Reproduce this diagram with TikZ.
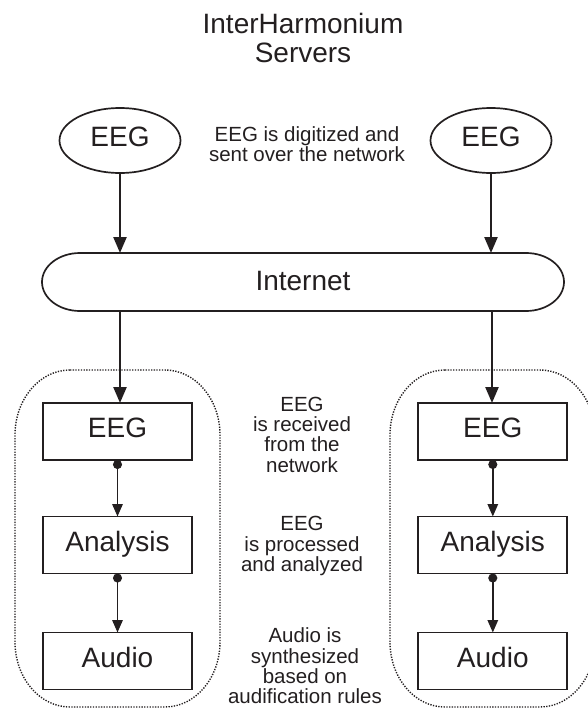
\documentclass[tikz,border=0pt]{standalone}
\usepackage{fontspec}
\setmainfont{Liberation Sans}
\usetikzlibrary{arrows.meta,shapes.geometric}
\definecolor{ink}{HTML}{231F20}
\begin{document}
\begin{tikzpicture}[x=1pt,y=1pt,
  every node/.style={inner sep=0pt, outer sep=0pt, text=ink},
  bigfont/.style={font=\fontsize{28}{29.3}\selectfont},
  smallfont/.style={font=\fontsize{20.5}{20.3}\selectfont, align=center},
  titletext/.style={bigfont, align=center},
  oval/.style={ellipse, draw=ink, line width=1.7pt, minimum width=121pt, minimum height=65pt, bigfont, text height=20pt, text depth=8pt},
  stagebox/.style={rectangle, draw=ink, line width=1.8pt, minimum width=149pt, minimum height=57pt, bigfont, text height=20pt, text depth=8pt},
  netshape/.style={rectangle, minimum width=522pt, minimum height=58pt, bigfont, text height=20pt, text depth=4pt},
  bigarrow/.style={draw=ink, line width=2.4pt, -{Triangle[length=16pt,width=13pt]}},
  smallarrow/.style={draw=ink, line width=1.5pt, {Circle[length=9pt]}-{Triangle[length=12.5pt,width=10.5pt]}},
  container/.style={draw=ink, line width=1.4pt, dash pattern=on 1.3pt off 1.4pt},
]
\useasboundingbox (0,0) rectangle (587,-718);

% title
\node[titletext, anchor=north] (title) at (303,-13.3) {InterHarmonium\\Servers};

% source EEG ovals
\node[oval] (srcL) at (120,-140.5) {EEG};
\node[oval] (srcR) at (491,-140.5) {EEG};
\node[smallfont, anchor=north] (noteA) at (307,-126.5) {EEG is digitized and\\sent over the network};

% internet
\node[netshape] (inet) at (303,-282) {Internet};
\draw[draw=ink, line width=1.7pt]
  ([xshift=38pt]inet.north west) -- ([xshift=-38pt]inet.north east)
  arc[start angle=90, end angle=-90, x radius=38pt, y radius=29pt]
  -- ([xshift=38pt]inet.south west)
  arc[start angle=270, end angle=90, x radius=38pt, y radius=29pt] -- cycle;

% containers
\draw[container] (70,-370) -- (165,-370)
  arc[start angle=90, end angle=0, x radius=55pt, y radius=65pt] -- (220,-642)
  arc[start angle=0, end angle=-90, x radius=55pt, y radius=65pt] -- (70,-707)
  arc[start angle=270, end angle=180, x radius=55pt, y radius=65pt] -- (15,-435)
  arc[start angle=180, end angle=90, x radius=55pt, y radius=65pt] -- cycle;
\draw[container] (445,-370) -- (540,-370)
  arc[start angle=90, end angle=0, x radius=55pt, y radius=65pt] -- (595,-642)
  arc[start angle=0, end angle=-90, x radius=55pt, y radius=65pt] -- (445,-707)
  arc[start angle=270, end angle=180, x radius=55pt, y radius=65pt] -- (390,-435)
  arc[start angle=180, end angle=90, x radius=55pt, y radius=65pt] -- cycle;

% stage boxes
\node[stagebox] (eegL) at (117.5,-431.5) {EEG};
\node[stagebox] (anaL) at (117.5,-545) {Analysis};
\node[stagebox] (audL) at (117.5,-661) {Audio};
\node[stagebox] (eegR) at (492.8,-431.5) {EEG};
\node[stagebox] (anaR) at (492.8,-545) {Analysis};
\node[stagebox] (audR) at (492.8,-661) {Audio};

% notes
\node[smallfont, anchor=north] (noteB) at (302,-397) {EEG\\is received\\from the\\network};
\node[smallfont, anchor=north] (noteC) at (302,-516.5) {EEG\\is processed\\and analyzed};
\node[smallfont, anchor=north] (noteD) at (305,-628) {Audio is\\synthesized\\based on\\audification rules};

% arrows
\draw[bigarrow] (srcL) -- (srcL |- inet.north);
\draw[bigarrow] (srcR) -- (srcR |- inet.north);
\draw[bigarrow] (srcL |- inet.south) -- (srcL |- eegL.north);
\draw[bigarrow] ([xshift=1pt]srcR |- inet.south) -- ([xshift=1pt]srcR |- eegR.north);
\draw[smallarrow] (eegL.south) -- (anaL.north);
\draw[smallarrow] (anaL.south) -- (audL.north);
\draw[smallarrow] (eegR.south) -- (anaR.north);
\draw[smallarrow] (anaR.south) -- (audR.north);
\end{tikzpicture}
\end{document}
